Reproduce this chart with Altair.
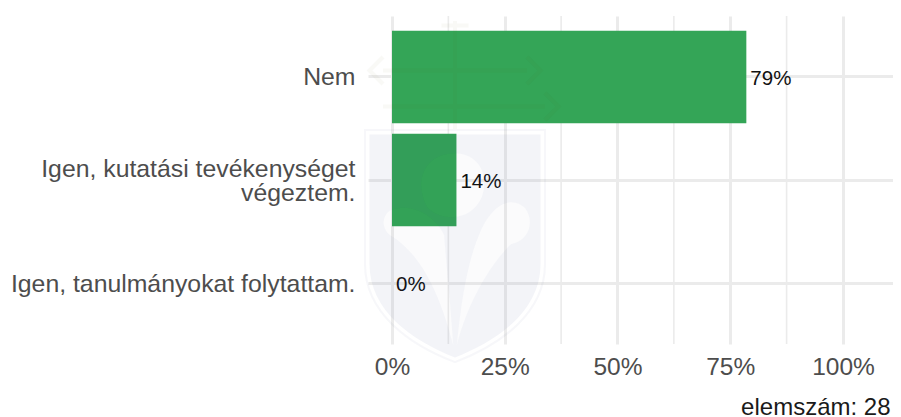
import altair as alt
import pandas as pd

categories = ["Nem", "Igen, kutatási tevékenységet\nvégeztem.", "Igen, tanulmányokat folytattam."]
percent = [78.57, 14.29, 0.0]
labels = ["79%", "14%", "0%"]
major_ticks = [0, 25, 50, 75, 100]
minor_ticks = [12.5, 37.5, 62.5, 87.5]
caption = "elemszám: 28"

PLUMES = ("M-.02,1.1 C-.15,.6 -.35,.1 -.72,-.12 C-.85,-.22 -.8,-.42 -.62,-.42 C-.42,-.45 -.2,-.3 -.12,-.12 "
          "C-.1,.2 -.06,.5 -.02,1.1 Z "
          "M-.3,-.42 C-.42,-.6 -.42,-.95 -.1,-1.02 C.2,-1.08 .4,-.85 .3,-.55 C.2,-.3 -.1,-.25 -.3,-.42 Z "
          "M.02,1.1 C.08,.5 .16,.1 .3,-.2 C.45,-.5 .65,-.55 .78,-.42 C.9,-.25 .8,-.05 .62,-.02 "
          "C.4,.2 .15,.6 .02,1.1 Z")
SHIELD = ("M-.95,-1.24 L-.95,.2 C-.95,.72 -.48,1.05 0,1.24 C.48,1.05 .95,.72 .95,.2 L.95,-1.24 Z "
          + PLUMES)
RING = "M-1,-1.29 L1,-1.29 L1,.2 C1,.75 .5,1.1 0,1.29 C-.5,1.1 -1,.75 -1,.2 Z"
CROWN = ("M0,-2.5 L0,-1.3 M-.8,-1.95 L.8,-1.95 M-.8,-1.55 L1,-1.55 "
         "M-.8,-2.1 L-.95,-1.95 L-.8,-1.8 M.8,-2.1 L.95,-1.95 L.8,-1.8 "
         "M1,-1.7 L1.15,-1.55 L1,-1.4 M-.15,-2.45 L.15,-2.45")

df = pd.DataFrame({"cat": categories, "pct": percent, "label": labels})
minor_df = pd.DataFrame({"v": minor_ticks})

xs = alt.Scale(domain=[-5.32, 111.09], nice=False, zero=False)
ys = alt.Scale(domain=categories, paddingInner=0.1, paddingOuter=0.142)
FONT = "Liberation Sans"

x_axis = alt.Axis(values=major_ticks, labelExpr="datum.value + '%'", domain=False, ticks=False,
                  grid=True, gridColor="#ebebeb", gridWidth=3,
                  labelFont=FONT, labelFontSize=24.5, labelColor="#4d4d4d", labelPadding=11,
                  title=caption, titleFont=FONT, titleFontSize=24, titleFontWeight="normal",
                  titleColor="#1a1a1a", titleAnchor="end", titleAlign="right",
                  titleX=522, titleY=70, titleBaseline="alphabetic")
y_axis = alt.Axis(domain=False, ticks=False, grid=True, gridColor="#ebebeb", gridWidth=3,
                  title=None, labelFont=FONT, labelFontSize=24.8, labelColor="#4d4d4d",
                  labelPadding=13, labelLimit=400, labelLineHeight=24,
                  labelOffset={"condition": {"test": "indexof(datum.value, 'végeztem') >= 0", "value": -10},
                               "value": 1.5},
                  labelExpr="split(datum.label, '\\n')")

minor = alt.Chart(minor_df).mark_rule(color="#ebebeb", strokeWidth=1.6).encode(
    x=alt.X("v:Q", scale=xs))
bars = alt.Chart(df).mark_bar(color="#34a557", cornerRadius=0).encode(
    x=alt.X("pct:Q", scale=xs, axis=x_axis, title=caption),
    x2=alt.X2(datum=0),
    y=alt.Y("cat:N", scale=ys, sort=categories, axis=y_axis))
text = alt.Chart(df).mark_text(align="left", baseline="middle", dx=4, dy=2, font=FONT,
                               fontSize=20.5, color="#111111").encode(
    x=alt.X("pct:Q", scale=xs),
    y=alt.Y("cat:N", scale=ys, sort=categories),
    text="label:N")
anchor = alt.Chart(pd.DataFrame({"a": [1]}))
shield = anchor.mark_point(shape=SHIELD, filled=True, fill="#26337a", fillOpacity=0.055,
                           strokeWidth=0, size=32400).encode(
    x=alt.value(87), y=alt.value(230))
plume = anchor.mark_point(shape=PLUMES, filled=True, fill="#26337a", fillOpacity=0.018,
                          strokeWidth=0, size=32400).encode(
    x=alt.value(87), y=alt.value(230))
ring = anchor.mark_point(shape=RING, filled=False, stroke="#26337a", strokeOpacity=0.05,
                         strokeWidth=2, size=32400).encode(
    x=alt.value(87), y=alt.value(230))
crown = anchor.mark_point(shape=CROWN, filled=False, stroke="#6b5a10", strokeOpacity=0.05,
                          strokeWidth=4, size=32400).encode(
    x=alt.value(87), y=alt.value(230))

chart = alt.layer(minor, bars, text, shield, plume, ring, crown).properties(
    width=525, height=328,
    padding={"left": 360, "top": 8, "right": 0, "bottom": 72},
    autosize=alt.AutoSizeParams(type="none"),
).configure_view(stroke=None)

chart.save("out.html", embed_options={"renderer": "svg", "actions": False})
